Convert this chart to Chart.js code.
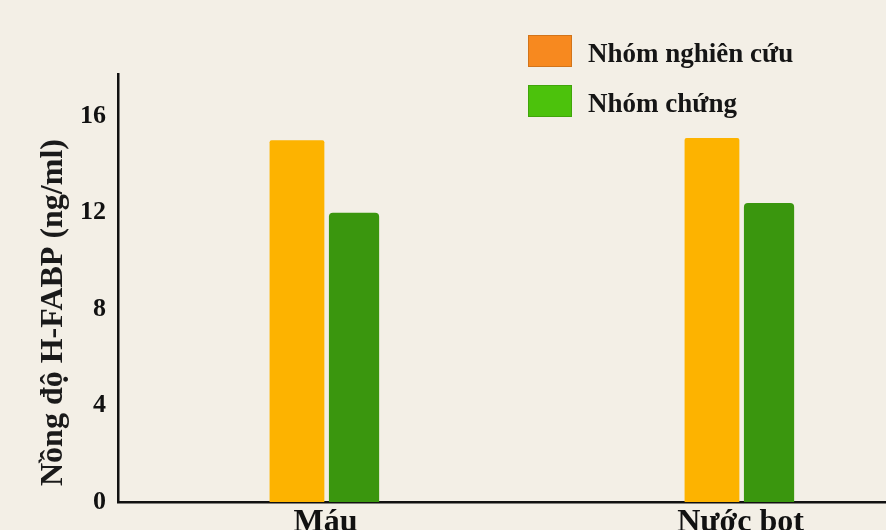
<!DOCTYPE html>
<html lang="vi">
<head>
  <meta charset="UTF-8" />
  <title>Nồng độ H-FABP</title>
  <script src="https://cdn.jsdelivr.net/npm/chart.js"></script>
  <style>
    html, body { margin: 0; padding: 0; background: #F3EFE6; }
    body { width: 886px; height: 530px; overflow: hidden; position: relative; }
    #khung { position: absolute; left: 0; top: 0; width: 950px; height: 530px; }
    #chuGiai { position: absolute; left: 528px; top: 35px; font-family: "Liberation Serif", serif; font-weight: bold; font-size: 27px; color: #151515; }
    .muc { display: flex; align-items: center; height: 32px; margin-bottom: 18px; }
    .muc span { position: relative; top: 2px; }
    .o { width: 44px; height: 32px; margin-right: 16px; box-sizing: border-box; }
  </style>
</head>
<body>

<div id="khung"><canvas id="bieuDo"></canvas></div>
<div id="chuGiai"></div>

<script>
  // du lieu doc tu hinh
  const nhom = ['Máu', 'Nước bọt'];
  const nhomNghienCuu = [15.0, 15.1];
  const nhomChung = [12.0, 12.4];
  const vachY = [0, 4, 8, 12, 16];

  const tenNhom = ['Nhóm nghiên cứu', 'Nhóm chứng'];
  const mauCot = ['#FDB300', '#3A960E'];
  const mauChuGiai = ['#F7891F', '#4CC20C'];

  const fontChu = { family: 'Liberation Serif', weight: 'bold' };

  // chu giai ben tren, ve bang HTML
  const chuGiai = document.getElementById('chuGiai');
  tenNhom.forEach((ten, i) => {
    const muc = document.createElement('div');
    muc.className = 'muc';
    const o = document.createElement('div');
    o.className = 'o';
    o.style.background = mauChuGiai[i];
    o.style.border = '1px solid rgba(0,0,0,0.15)';
    const chu = document.createElement('span');
    chu.innerText = ten;
    muc.appendChild(o);
    muc.appendChild(chu);
    chuGiai.appendChild(muc);
  });

  const ctx = document.getElementById('bieuDo').getContext('2d');
  new Chart(ctx, {
    type: 'bar',
    data: {
      labels: nhom,
      datasets: [
        {
          label: tenNhom[0],
          data: nhomNghienCuu,
          backgroundColor: mauCot[0],
          barPercentage: 0.96,
          borderRadius: 2,
          borderSkipped: 'bottom'
        },
        {
          label: tenNhom[1],
          data: nhomChung,
          backgroundColor: mauCot[1],
          barPercentage: 0.88,
          borderRadius: 4,
          borderSkipped: 'bottom'
        }
      ]
    },
    options: {
      responsive: true,
      maintainAspectRatio: false,
      animation: false,
      layout: { padding: { top: 74, right: 2, left: 0, bottom: 0 } },
      datasets: { bar: { categoryPercentage: 0.275 } },
      plugins: {
        legend: { display: false },
        tooltip: { enabled: false }
      },
      scales: {
        x: {
          grid: { display: false, drawTicks: false },
          border: { display: true, color: '#111', width: 2.5 },
          ticks: { color: '#111', font: { ...fontChu, size: 32, lineHeight: 1 }, padding: 5 },
          afterFit: (scale) => { scale.height = 28; }
        },
        y: {
          min: 0,
          max: 17.75,
          grid: { display: false, drawTicks: false },
          border: { display: true, color: '#111', width: 2.5 },
          ticks: { color: '#111', font: { ...fontChu, size: 26 }, padding: 12, includeBounds: false },
          afterBuildTicks: (scale) => { scale.ticks = vachY.map(v => ({ value: v })); },
          afterFit: (scale) => { scale.width = 118; },
          title: {
            display: true,
            text: '  Nồng độ H-FABP (ng/ml)',
            align: 'start',
            color: '#1a1a1a',
            font: { ...fontChu, size: 32, lineHeight: 1.2 },
            padding: { top: 35, bottom: 0 }
          }
        }
      }
    }
  });
</script>

</body>
</html>
